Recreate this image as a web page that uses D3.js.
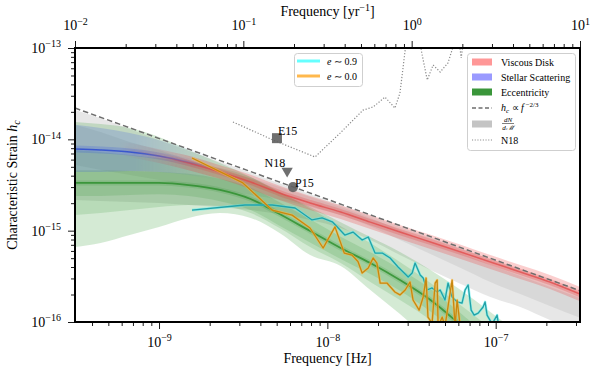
<!DOCTYPE html>
<html>
<head>
<meta charset="utf-8">
<script src="https://cdn.jsdelivr.net/npm/d3@7/dist/d3.min.js"></script>
</head>
<body style="margin:0; background:#fff;">
<svg width="598" height="370"></svg>
<script>
var FYR = 3.1688e-8; // 1/yr in Hz
var FONT = "Liberation Serif";

// ---- values ----
var bandFreqs = [3.17e-10, 4.5e-10, 6.7e-10, 1.0e-9, 1.5e-9, 2.3e-9, 3.5e-9, 5.2e-9, 7.9e-9,
                 1.2e-8, 1.8e-8, 2.7e-8, 4.1e-8, 6.2e-8, 9.3e-8, 1.4e-7, 2.1e-7, 3.17e-7];

// dN/dM band (grey)
var grayHi = [2.1e-14, 1.7e-14, 1.3e-14, 9.8e-15, 7.5e-15, 5.7e-15, 4.3e-15, 3.3e-15, 2.5e-15,
              1.9e-15, 1.45e-15, 1.1e-15, 8.4e-16, 6.4e-16, 4.85e-16, 3.7e-16, 2.8e-16, 2.13e-16];
var grayLo = [2.17e-15, 2.11e-15, 2.06e-15, 2.01e-15, 1.91e-15, 1.82e-15, 1.68e-15, 1.52e-15, 1.31e-15,
              1.07e-15, 7.91e-16, 5.41e-16, 3.71e-16, 2.61e-16, 1.88e-16, 1.46e-16, 1.05e-16, 7.76e-17];
var grayCoreHi = [1.44e-14, 1.2e-14, 9.35e-15, 7.64e-15, 5.94e-15, 4.62e-15, 3.78e-15, 3.01e-15, 2.34e-15,
                  1.82e-15, 1.38e-15, 1.02e-15, 7.52e-16, 5.69e-16, 4.21e-16, 3.19e-16, 2.42e-16, 1.83e-16];
var grayCoreLo = [5.24e-15, 4.62e-15, 4.07e-15, 3.59e-15, 3.16e-15, 2.79e-15, 2.46e-15, 2.17e-15, 1.82e-15,
                  1.48e-15, 1.12e-15, 7.91e-16, 5.55e-16, 3.9e-16, 2.74e-16, 2.02e-16, 1.5e-16, 1.11e-16];

// viscous disk (red)
var diskMid = [9.84e-15, 8.67e-15, 7.64e-15, 6.57e-15, 5.5e-15, 4.39e-15, 3.41e-15, 2.58e-15, 2.01e-15,
               1.6e-15, 1.24e-15, 9.66e-16, 7.52e-16, 5.84e-16, 4.54e-16, 3.53e-16, 2.74e-16, 2.02e-16];
var diskHi = [1.17e-14, 1.03e-14, 9.1e-15, 7.8e-15, 6.6e-15, 5.2e-15, 4.1e-15, 3.1e-15, 2.4e-15,
              1.9e-15, 1.48e-15, 1.15e-15, 9.0e-16, 7.0e-16, 5.4e-16, 4.2e-16, 3.27e-16, 2.41e-16];
var diskLo = [8.2e-15, 7.3e-15, 6.4e-15, 5.5e-15, 4.6e-15, 3.7e-15, 2.86e-15, 2.16e-15, 1.68e-15,
              1.34e-15, 1.04e-15, 8.1e-16, 6.3e-16, 4.9e-16, 3.8e-16, 2.96e-16, 2.3e-16, 1.69e-16];

// stellar scattering (blue)
var scatFreqs = [3.17e-10, 4.5e-10, 6.7e-10, 1.0e-9, 1.5e-9, 2.3e-9, 3.5e-9, 5.2e-9];
var scatMid = [7.84e-15, 7.64e-15, 7.26e-15, 6.57e-15, 5.65e-15, 4.62e-15, 3.59e-15, 2.72e-15];
var scatHi = [1.44e-14, 1.33e-14, 1.17e-14, 9.84e-15, 7.84e-15, 6.09e-15, 4.62e-15, 3.41e-15];
var scatLo = [4.39e-15, 4.39e-15, 4.5e-15, 4.39e-15, 4.07e-15, 3.5e-15, 2.79e-15, 2.17e-15];

// eccentricity (green)
var eccOuterHi = [1.55e-14, 1.47e-14, 1.33e-14, 1.06e-14, 7.64e-15, 5.5e-15, 3.87e-15, 2.65e-15, 1.82e-15,
                  1.24e-15, 8.53e-16, 5.84e-16, 3.71e-16, 2.24e-16, 1.29e-16, 7.21e-17, 4.0e-17, 2.3e-17];
var eccOuterLo = [6.62e-16, 7.33e-16, 8.96e-16, 1.1e-15, 1.38e-15, 1.56e-15, 1.38e-15, 9.42e-16, 5.41e-16,
                  4.1e-16, 2.24e-16, 1.22e-16, 6.35e-17, 3.84e-17, 2.32e-17, 1.4e-17, 8.5e-18, 5.2e-18];
var eccMidHi = [7.64e-15, 7.26e-15, 6.73e-15, 6.25e-15, 5.65e-15, 4.85e-15, 3.87e-15, 2.65e-15, 1.75e-15,
                1.12e-15, 7.33e-16, 4.54e-16, 2.67e-16, 1.53e-16, 8.59e-17, 4.9e-17, 2.8e-17, 1.6e-17];
var eccMidLo = [1.48e-15, 1.56e-15, 1.68e-15, 1.82e-15, 1.91e-15, 1.86e-15, 1.56e-15, 1.07e-15, 6.62e-16,
                4.42e-16, 2.74e-16, 1.74e-16, 1.05e-16, 5.6e-17, 3.13e-17, 1.8e-17, 1.0e-17, 5.8e-18];
var eccInHi = [4.6e-15, 4.6e-15, 4.5e-15, 4.4e-15, 4.2e-15, 3.7e-15, 2.95e-15, 2.05e-15, 1.33e-15,
               8.6e-16, 5.8e-16, 3.8e-16, 2.3e-16, 1.25e-16, 6.6e-17, 3.5e-17, 1.9e-17, 1.0e-17];
var eccInLo = [2.4e-15, 2.4e-15, 2.45e-15, 2.5e-15, 2.4e-15, 2.1e-15, 1.68e-15, 1.13e-15, 7.4e-16,
               4.9e-16, 3.35e-16, 2.2e-16, 1.3e-16, 6.9e-17, 3.6e-17, 1.9e-17, 1.0e-17, 5.7e-18];
var eccMed = [3.33e-15, 3.33e-15, 3.33e-15, 3.33e-15, 3.16e-15, 2.79e-15, 2.22e-15, 1.52e-15, 9.91e-16,
              6.46e-16, 4.42e-16, 2.88e-16, 1.74e-16, 9.27e-17, 4.9e-17, 2.6e-17, 1.4e-17, 7.6e-18];

// h_c ~ f^-2/3 reference line
var powFreqs = [3.17e-10, 3.17e-7];
var powHc = [2.2e-14, 2.2e-16];

// e ~ 0.9 (cyan)
var e9Freqs = [1.57e-9, 3.24e-9, 4.7e-9, 6.43e-9, 8.11e-9, 9.31e-9, 1.07e-8, 1.27e-8, 1.42e-8, 1.61e-8,
               1.75e-8, 1.92e-8, 2.12e-8, 2.36e-8, 2.63e-8, 2.82e-8, 3.02e-8, 3.19e-8, 3.32e-8, 3.56e-8,
               3.71e-8, 3.91e-8, 4.19e-8, 4.49e-8, 4.68e-8, 5.0e-8, 5.21e-8, 5.51e-8, 5.9e-8, 6.31e-8,
               6.58e-8, 6.86e-8, 7.15e-8, 7.45e-8, 7.87e-8, 8.42e-8, 8.65e-8, 8.89e-8, 9.53e-8, 1.02e-7, 1.05e-7];
var e9Hc = [1.68e-15, 1.91e-15, 1.91e-15, 1.77e-15, 1.31e-15, 1.38e-15, 1.25e-15, 8.96e-16, 9.66e-16, 7.91e-16,
            8.52e-16, 5.69e-16, 5.69e-16, 5.02e-16, 4.0e-16, 3.52e-16, 3.11e-16, 3.44e-16, 4.42e-16, 3.27e-16,
            3.03e-16, 2.24e-16, 2.36e-16, 2.13e-16, 2.24e-16, 1.74e-16, 2.67e-16, 1.88e-16, 1.66e-16, 1.61e-16,
            2.24e-16, 2.54e-16, 1.35e-16, 1.19e-16, 1.25e-16, 1.46e-16, 1.66e-16, 1.19e-16, 9.5e-17, 1.19e-16, 8e-17];

// e ~ 0.0 (orange)
var e0Freqs = [1.57e-9, 3.15e-9, 4.7e-9, 6.17e-9, 7.89e-9, 9.44e-9, 1.11e-8, 1.26e-8, 1.4e-8, 1.52e-8,
               1.61e-8, 1.75e-8, 1.87e-8, 1.97e-8, 2.06e-8, 2.26e-8, 2.52e-8, 2.7e-8, 2.9e-8, 3.1e-8,
               3.23e-8, 3.51e-8, 3.71e-8, 3.86e-8, 3.96e-8, 4.19e-8, 4.37e-8, 4.49e-8, 4.55e-8, 4.81e-8,
               5.0e-8, 5.51e-8, 5.74e-8, 5.9e-8, 6.2e-8];
var e0Hc = [6.25e-15, 3.33e-15, 1.68e-15, 1.48e-15, 1.07e-15, 6.46e-16, 1.1e-15, 5.69e-16, 5.4e-16, 4.6e-16,
            3.44e-16, 3.9e-16, 5.02e-16, 4.42e-16, 2.67e-16, 2.67e-16, 2.13e-16, 1.98e-16, 2.24e-16, 2.74e-16,
            1.74e-16, 1.35e-16, 1.88e-16, 3.03e-16, 1.13e-16, 9.7e-17, 2.67e-16, 2.88e-16, 9e-17, 1.13e-16,
            9e-17, 2.88e-16, 9e-17, 1.74e-16, 8e-17];

// N18 sensitivity (dotted)
var n18Freqs = [2.75e-9, 4.75e-9, 8.45e-9, 1.19e-8, 1.63e-8, 1.87e-8, 2.2e-8, 2.52e-8, 2.7e-8, 2.9e-8, 2.98e-8,
                3.56e-8, 3.61e-8, 3.92e-8, 4.25e-8, 4.68e-8, 5.21e-8, 5.74e-8, 6.0e-8, 6.24e-8, 6.5e-8];
var n18Hc = [1.55e-14, 9.84e-15, 6.41e-15, 1.17e-14, 2.09e-14, 2.26e-14, 2.9e-14, 2.2e-14, 3.21e-14, 9.5e-14, 2e-13,
             2e-13, 9.5e-14, 4.47e-14, 6.51e-14, 5.46e-14, 6.86e-14, 1.22e-13, 1.4e-13, 7.78e-14, 1.4e-13];

// single-source limits
var limNames = ["E15", "N18", "P15"];
var limFreqs = [5.02e-9, 5.77e-9, 6.25e-9];
var limHc = [1.03e-14, 4.5e-15, 3.0e-15];

var xTickVals = [1e-9, 1e-8, 1e-7];
var topTickVals = [0.01, 0.1, 1, 10];
var yTickVals = [1e-16, 1e-15, 1e-14, 1e-13];

// ---- chart ----
var svg = d3.select("svg").attr("font-family", FONT),
    margin = {top: 48, right: 18, bottom: 48, left: 75},
    width = +svg.attr("width") - margin.left - margin.right,
    height = +svg.attr("height") - margin.top - margin.bottom;

var x = d3.scaleLog().domain([0.01 * FYR, 10 * FYR]).range([0, width]),
    xTop = d3.scaleLog().domain([0.01, 10]).range([0, width]),
    y = d3.scaleLog().domain([1e-16, 1e-13]).range([height, 0]);

var defs = svg.append("defs");
defs.append("clipPath").attr("id", "clip")
  .append("rect").attr("width", width).attr("height", height);

function fadeMask(id, x0, x1, fadeOut) {
  var grad = defs.append("linearGradient").attr("id", id + "Grad")
      .attr("gradientUnits", "userSpaceOnUse")
      .attr("x1", x0).attr("x2", x1).attr("y1", 0).attr("y2", 0);
  grad.append("stop").attr("offset", 0).attr("stop-color", fadeOut ? "#fff" : "#000");
  grad.append("stop").attr("offset", 1).attr("stop-color", fadeOut ? "#000" : "#fff");
  defs.append("mask").attr("id", id).attr("maskUnits", "userSpaceOnUse")
      .attr("x", -10).attr("y", -10).attr("width", width + 20).attr("height", height + 20)
    .append("rect")
      .attr("x", -10).attr("y", -10).attr("width", width + 20).attr("height", height + 20)
      .attr("fill", "url(#" + id + "Grad)");
}
fadeMask("diskMask", 45, 115, false);
fadeMask("scatMask", 60, 140, true);

var g = svg.append("g").attr("transform", "translate(" + margin.left + "," + margin.top + ")");
var plot = g.append("g").attr("clip-path", "url(#clip)");

function band(fs, lo, hi) {
  return d3.area()
      .x(function(d, i) { return x(fs[i]); })
      .y0(function(d, i) { return y(lo[i]); })
      .y1(function(d, i) { return y(hi[i]); })
      .curve(d3.curveMonotoneX)(fs);
}
function curve(fs, hs, smooth) {
  return d3.line()
      .x(function(d, i) { return x(fs[i]); })
      .y(function(d, i) { return y(hs[i]); })
      .curve(smooth ? d3.curveMonotoneX : d3.curveLinear)(fs);
}

// grey dN/dM
plot.append("path").attr("d", band(bandFreqs, grayLo, grayHi))
    .attr("fill", "#a0a0a0").attr("fill-opacity", 0.25);
plot.append("path").attr("d", band(bandFreqs, grayCoreLo, grayCoreHi))
    .attr("fill", "#808080").attr("fill-opacity", 0.14);

// eccentricity
plot.append("path").attr("d", band(bandFreqs, eccOuterLo, eccOuterHi))
    .attr("fill", "#3ca03c").attr("fill-opacity", 0.22);
plot.append("path").attr("d", band(bandFreqs, eccMidLo, eccMidHi))
    .attr("fill", "#2e962e").attr("fill-opacity", 0.17);
plot.append("path").attr("d", band(bandFreqs, eccInLo, eccInHi))
    .attr("fill", "#2e962e").attr("fill-opacity", 0.17);
plot.append("path").attr("d", curve(bandFreqs, eccMed, true))
    .attr("fill", "none").attr("stroke", "#1f8a1f").attr("stroke-opacity", 0.15).attr("stroke-width", 5);
plot.append("path").attr("d", curve(bandFreqs, eccMed, true))
    .attr("fill", "none").attr("stroke", "#1c861c").attr("stroke-opacity", 0.7).attr("stroke-width", 1.8);

// viscous disk
var disk = plot.append("g").attr("mask", "url(#diskMask)");
disk.append("path").attr("d", band(bandFreqs, diskLo, diskHi))
    .attr("fill", "#f03c3c").attr("fill-opacity", 0.25);
disk.append("path").attr("d", curve(bandFreqs, diskMid, true))
    .attr("fill", "none").attr("stroke", "#e83c3c").attr("stroke-opacity", 0.25).attr("stroke-width", 6);
disk.append("path").attr("d", curve(bandFreqs, diskMid, true))
    .attr("fill", "none").attr("stroke", "#e04848").attr("stroke-opacity", 0.75).attr("stroke-width", 1.5);

// stellar scattering
var scat = plot.append("g").attr("mask", "url(#scatMask)");
scat.append("path").attr("d", band(scatFreqs, scatLo, scatHi))
    .attr("fill", "#4060e0").attr("fill-opacity", 0.22);
scat.append("path").attr("d", curve(scatFreqs, scatMid, true))
    .attr("fill", "none").attr("stroke", "#3050e0").attr("stroke-opacity", 0.22).attr("stroke-width", 7);
scat.append("path").attr("d", curve(scatFreqs, scatMid, true))
    .attr("fill", "none").attr("stroke", "#2040d0").attr("stroke-opacity", 0.75).attr("stroke-width", 1.5);

// power law
plot.append("path").attr("d", curve(powFreqs, powHc, false))
    .attr("fill", "none").attr("stroke", "#6e6e6e").attr("stroke-width", 1.5)
    .attr("stroke-dasharray", "5.5,3");

// N18 curve
plot.append("path").attr("d", curve(n18Freqs, n18Hc, false))
    .attr("fill", "none").attr("stroke", "#8a8a8a").attr("stroke-width", 1.2)
    .attr("stroke-dasharray", "1.2,1.8");

// eccentric binaries
function noisy(fs, hs, halo, core) {
  plot.append("path").attr("d", curve(fs, hs, false))
      .attr("fill", "none").attr("stroke", halo).attr("stroke-opacity", 0.6).attr("stroke-width", 2.6)
      .attr("stroke-linejoin", "round");
  plot.append("path").attr("d", curve(fs, hs, false))
      .attr("fill", "none").attr("stroke", core).attr("stroke-width", 1.3)
      .attr("stroke-linejoin", "round");
}
noisy(e9Freqs, e9Hc, "#5ff0f0", "#23a0a6");
noisy(e0Freqs, e0Hc, "#ffbb44", "#c8870f");

// limits
var shapes = [d3.symbolSquare, d3.symbolTriangle, d3.symbolCircle],
    sizes = [100, 55, 80],
    rot = [0, 180, 0],
    dx = [1, -2, 2], dy = [-3, -4, 0],
    anchor = ["start", "end", "start"];
limNames.forEach(function(name, i) {
  var px = x(limFreqs[i]), py = y(limHc[i]);
  g.append("path")
      .attr("d", d3.symbol().type(shapes[i]).size(sizes[i])())
      .attr("transform", "translate(" + px + "," + py + ") rotate(" + rot[i] + ")")
      .attr("fill", "#5f5f5f").attr("fill-opacity", 0.9);
  g.append("text").attr("x", px + dx[i]).attr("y", py + dy[i])
      .attr("text-anchor", anchor[i]).attr("font-size", 12).text(name);
});

// ---- axes ----
function minors(lo, hi) {
  var out = [];
  for (var k = Math.floor(Math.log10(lo)); k <= Math.ceil(Math.log10(hi)); k++) {
    for (var m = 2; m <= 9; m++) {
      var v = m * Math.pow(10, k);
      if (v >= lo && v <= hi) out.push(v);
    }
  }
  return out;
}
function powLabel(sel) {
  sel.each(function(d) {
    var t = d3.select(this).text(null);
    var e = Math.round(Math.log10(d));
    t.append("tspan").text("10");
    t.append("tspan").attr("font-size", 10).attr("dy", "-0.55em")
      .text(e < 0 ? "\u2212" + (-e) : e);
  });
}
function styleAxis(ax) {
  ax.attr("font-family", FONT).attr("font-size", 14);
  ax.select(".domain").remove();
  ax.selectAll("line").attr("stroke", "#000").attr("stroke-width", 0.9);
}

var xDom = x.domain(), yDom = y.domain(), tDom = xTop.domain();

var axB = g.append("g").attr("transform", "translate(0," + height + ")");
axB.append("g").call(d3.axisBottom(x).tickValues(minors(xDom[0], xDom[1])).tickSize(4).tickFormat(""))
   .call(styleAxis);
axB.append("g").call(d3.axisBottom(x).tickValues(xTickVals).tickSize(7).tickPadding(8))
   .call(styleAxis).selectAll("text").call(powLabel);

var axT = g.append("g");
axT.append("g").call(d3.axisTop(xTop).tickValues(minors(tDom[0], tDom[1])).tickSize(4).tickFormat(""))
   .call(styleAxis);
axT.append("g").call(d3.axisTop(xTop).tickValues(topTickVals).tickSize(7).tickPadding(11))
   .call(styleAxis).selectAll("text").call(powLabel);

var axL = g.append("g");
axL.append("g").call(d3.axisLeft(y).tickValues(minors(yDom[0], yDom[1])).tickSize(4).tickFormat(""))
   .call(styleAxis);
axL.append("g").call(d3.axisLeft(y).tickValues(yTickVals).tickSize(7).tickPadding(7))
   .call(styleAxis).selectAll("text").call(powLabel);

g.append("rect").attr("width", width).attr("height", height)
    .attr("fill", "none").attr("stroke", "#000").attr("stroke-width", 2);

// axis titles
svg.append("text").attr("x", margin.left + width / 2).attr("y", 363)
    .attr("text-anchor", "middle").attr("font-size", 14).text("Frequency [Hz]");
var tt = svg.append("text").attr("x", margin.left + width / 2).attr("y", 16)
    .attr("text-anchor", "middle").attr("font-size", 14);
tt.append("tspan").text("Frequency [yr");
tt.append("tspan").attr("font-size", 10).attr("dy", "-0.55em").text("\u22121");
tt.append("tspan").attr("dy", "0.385em").text("]");

var yl = svg.append("text").attr("transform", "translate(17," + (margin.top + height / 2) + ") rotate(-90)")
    .attr("text-anchor", "middle").attr("font-size", 14);
yl.append("tspan").text("Characteristic Strain ");
yl.append("tspan").attr("font-style", "italic").text("h");
yl.append("tspan").attr("font-style", "italic").attr("font-size", 10).attr("dy", "0.3em").text("c");

// ---- legends ----
var leg = svg.append("g");
leg.append("rect").attr("x", 467.5).attr("y", 53.5).attr("width", 108).attr("height", 97).attr("rx", 3)
    .attr("fill", "#fff").attr("fill-opacity", 0.85).attr("stroke", "#cfcfcf");
var patchRows = [["Viscous Disk", "#ff9797", 62], ["Stellar Scattering", "#9a9aff", 77],
                 ["Eccentricity", "#3a963a", 92]];
patchRows.forEach(function(r) {
  leg.append("rect").attr("x", 472).attr("y", r[2] - 3.5).attr("width", 20).attr("height", 7).attr("fill", r[1]);
  leg.append("text").attr("x", 501).attr("y", r[2] + 3.5).attr("font-size", 10).text(r[0]);
});
leg.append("line").attr("x1", 472).attr("x2", 492).attr("y1", 108).attr("y2", 108)
    .attr("stroke", "#6e6e6e").attr("stroke-width", 1.3).attr("stroke-dasharray", "4,2.5");
var pl = leg.append("text").attr("x", 501).attr("y", 111).attr("font-size", 10);
pl.append("tspan").attr("font-style", "italic").text("h");
pl.append("tspan").attr("font-style", "italic").attr("font-size", 7).attr("dy", 2).text("c");
pl.append("tspan").attr("dy", -2).text(" \u221D ");
pl.append("tspan").attr("font-style", "italic").text("f");
pl.append("tspan").attr("font-size", 7).attr("dy", -4).text(" \u22122/3");
leg.append("rect").attr("x", 472).attr("y", 120.5).attr("width", 20).attr("height", 7).attr("fill", "#c4c4c4");
leg.append("text").attr("x", 508).attr("y", 121.5).attr("text-anchor", "middle")
    .attr("font-size", 7).attr("font-style", "italic").text("dN");
leg.append("line").attr("x1", 502).attr("x2", 514).attr("y1", 123.5).attr("y2", 123.5)
    .attr("stroke", "#000").attr("stroke-width", 0.5);
leg.append("text").attr("x", 508).attr("y", 129.5).attr("text-anchor", "middle")
    .attr("font-size", 7).attr("font-style", "italic").text("d\u2133");
leg.append("line").attr("x1", 472).attr("x2", 492).attr("y1", 140).attr("y2", 140)
    .attr("stroke", "#8a8a8a").attr("stroke-width", 1.1).attr("stroke-dasharray", "1.1,1.6");
leg.append("text").attr("x", 501).attr("y", 143.5).attr("font-size", 10).text("N18");

var leg2 = svg.append("g");
leg2.append("rect").attr("x", 294.5).attr("y", 53.5).attr("width", 68).attr("height", 33).attr("rx", 3)
    .attr("fill", "#fff").attr("fill-opacity", 0.85).attr("stroke", "#cfcfcf");
[["0.9", "#66ffff", 61], ["0.0", "#ffb84d", 76]].forEach(function(r) {
  leg2.append("line").attr("x1", 297).attr("x2", 320).attr("y1", r[2]).attr("y2", r[2])
      .attr("stroke", r[1]).attr("stroke-width", 3);
  var t = leg2.append("text").attr("x", 327).attr("y", r[2] + 3.5).attr("font-size", 10);
  t.append("tspan").attr("font-style", "italic").text("e");
  t.append("tspan").text(" \u223C " + r[0]);
});

// serif everywhere
svg.selectAll("text").style("font-family", FONT);
</script>
</body>
</html>
